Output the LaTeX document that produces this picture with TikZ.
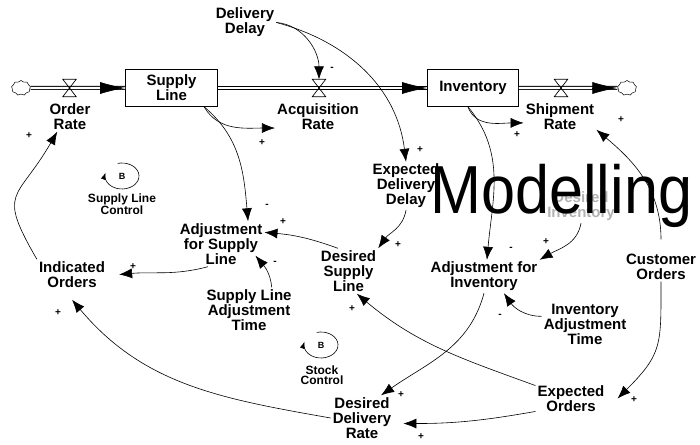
\documentclass[tikz,border=0pt]{standalone}
\usepackage{fontspec}
\setmainfont{Liberation Sans}
\usepackage{graphicx}
\usepackage{tikz}
\usetikzlibrary{arrows.meta,shapes.symbols}
\tikzset{>={Latex[length=13pt,width=10pt]}}

\begin{document}
\begin{tikzpicture}[x=1pt,y=1pt,
  var/.style={align=center,inner sep=2pt,font=\fontsize{15}{15}\selectfont\bfseries},
  box/.style={var,draw,line width=0.7pt,minimum width=92pt,minimum height=37pt},
  src/.style={shape=cloud,draw,cloud puffs=9,cloud puff arc=120,aspect=1.3,minimum width=19pt,minimum height=15pt,inner sep=0pt,line width=0.5pt},
  valve/.style={minimum width=13pt,minimum height=17pt,inner sep=0pt},
  pipe/.style={double,double distance=2.4pt,line width=0.8pt},
  pipetip/.style={-{Latex[length=25pt,width=12pt]},line width=0.6pt},
  lnk/.style={->,line width=0.6pt},
  sgn/.style={inner sep=0pt,font=\fontsize{10}{10}\selectfont\bfseries},
  loopb/.style={inner sep=0pt,font=\fontsize{9}{9}\selectfont\bfseries},
  looplbl/.style={align=center,inner sep=0pt,font=\fontsize{12}{10.5}\selectfont\bfseries},
  loopline/.style={-{Latex[length=7pt,width=5pt]},line width=0.6pt}]
\useasboundingbox (0,0) rectangle (700,444);

\node[src] (C1) at (21,356) {};
\node[box] (SL) at (171.5,356) {Supply\\Line};
\node[box,minimum width=91pt] (Inv) at (473,356) {Inventory};
\node[src] (C2) at (627,356) {};
\node[valve] (V1) at (69.5,356) {};
\node[valve] (V2) at (319,356) {};
\node[valve] (V3) at (561,356) {};

\draw[pipe] (C1.east) -- (SL.west);
\draw[pipe] (SL.east) -- (Inv.west);
\draw[pipe] (Inv.east) -- (C2.west);
\draw[pipetip] ([xshift=-25pt]SL.west) -- (SL.west);
\draw[pipetip] ([xshift=-25pt]Inv.west) -- (Inv.west);
\draw[pipetip] ([xshift=-25pt]C2.west) -- (C2.west);
\foreach \v in {V1,V2,V3}
  \draw[line width=0.7pt] (\v.north west) -- (\v.north east) -- (\v.south west) -- (\v.south east) -- cycle;

\node[var] (OR) at (70,327.5) {Order\\Rate};
\node[var] (AR) at (318,327.5) {Acquisition\\Rate};
\node[var] (SR) at (560,327.5) {Shipment\\Rate};
\node[var] (DD) at (245,421.5) {Delivery\\Delay};
\node[var] (EDD) at (406,258) {Expected\\Delivery\\Delay};
\node[var,text=gray!60] (DI) at (581,237.5) {Desired\\Inventory};
\node[var] (CO) at (661,177.5) {Customer\\Orders};
\node[var] (ASL) at (221,200) {Adjustment\\for Supply\\Line};
\node[var] (DSL) at (348.5,173) {Desired\\Supply\\Line};
\node[var] (IO) at (72,169.5) {Indicated\\Orders};
\node[var] (AI) at (484,167.5) {Adjustment for\\Inventory};
\node[var] (SLAT) at (249,134) {Supply Line\\Adjustment\\Time};
\node[var] (IAT) at (585,120) {Inventory\\Adjustment\\Time};
\node[var] (EO) at (571,45.5) {Expected\\Orders};
\node[var] (DDR) at (362,26) {Desired\\Delivery\\Rate};

\node[loopb] (B1) at (122,268) {B};
\draw[loopline] ([shift={(105:17 and 13)}]B1.center) arc[start angle=105,end angle=-195,x radius=17,y radius=13];
\node[looplbl] (L1) at (122,240) {Supply Line\\Control};
\node[loopb] (B2) at (321,99) {B};
\draw[loopline] ([shift={(105:17 and 13)}]B2.center) arc[start angle=105,end angle=-195,x radius=17,y radius=13];
\node[looplbl] (L2) at (322,69) {Stock\\Control};

\draw[lnk] (DD.east) to[out=-5,in=90] (V2.north);
\draw[lnk] (DD.east) to[out=-15,in=97] (EDD.north);
\draw[lnk] (SL.-30) to[out=-60,in=180] (AR.-165);
\draw[lnk] (SL.-30) to[out=-40,in=95] (ASL.40);
\draw[lnk] (Inv.-105) to[out=-70,in=180] (SR.-170);
\draw[lnk] (Inv.-105) to[out=-50,in=85] (AI.80);
\draw[lnk] ([yshift=12pt]CO.north) to[out=90,in=-40] (SR.-20);
\draw[lnk] (CO.south) to[out=-90,in=45,looseness=1.3] ([xshift=11pt]EO.east);
\draw[lnk] (DI.south) to[out=-100,in=30] (AI.north east);
\draw[lnk] (IAT.170) to[out=180,in=-55] (AI.-40);
\draw[lnk] (AI.south) to[out=-105,in=35] (DDR.50);
\draw[lnk] (EO.160) to[out=160,in=-40] (DSL.-70);
\draw[lnk] (EO.-160) to[out=190,in=0] ([xshift=10pt]DDR.-10);
\draw[lnk] (DDR.west) to[out=170,in=-50] ([yshift=-10pt]IO.south);
\draw[lnk] (IO.north west) to[out=120,in=-120,looseness=1.6] (OR.-130);
\draw[lnk] (ASL.-120) to[out=195,in=5] ([xshift=12pt]IO.east);
\draw[lnk] (DSL.115) to[out=160,in=-5] (ASL.15);
\draw[lnk] (EDD.south) to[out=-100,in=55] (DSL.north east);
\draw[lnk] (SLAT.45) to[out=95,in=-50] ([xshift=-9pt]ASL.-15);

\foreach \x/\y/\s [count=\i] in {332/375/-,420/294/+,262/301/+,267/238/-,517/309/+,511/195/-,621/324/+,634/44/+,546/202/+,500/128/-,401/49/+,352/135/+,421/7/+,58/131/+,29/308/+,133/177/+,283/222/+,398/199/+,275/181/-}
  \node[sgn] (S\i) at (\x,\y) {\s};

\node[anchor=base west,inner sep=0pt,font=\fontsize{68}{68}\selectfont] (WM) at (430,230) {\scalebox{0.9}[1]{Modelling}};
\end{tikzpicture}
\end{document}
